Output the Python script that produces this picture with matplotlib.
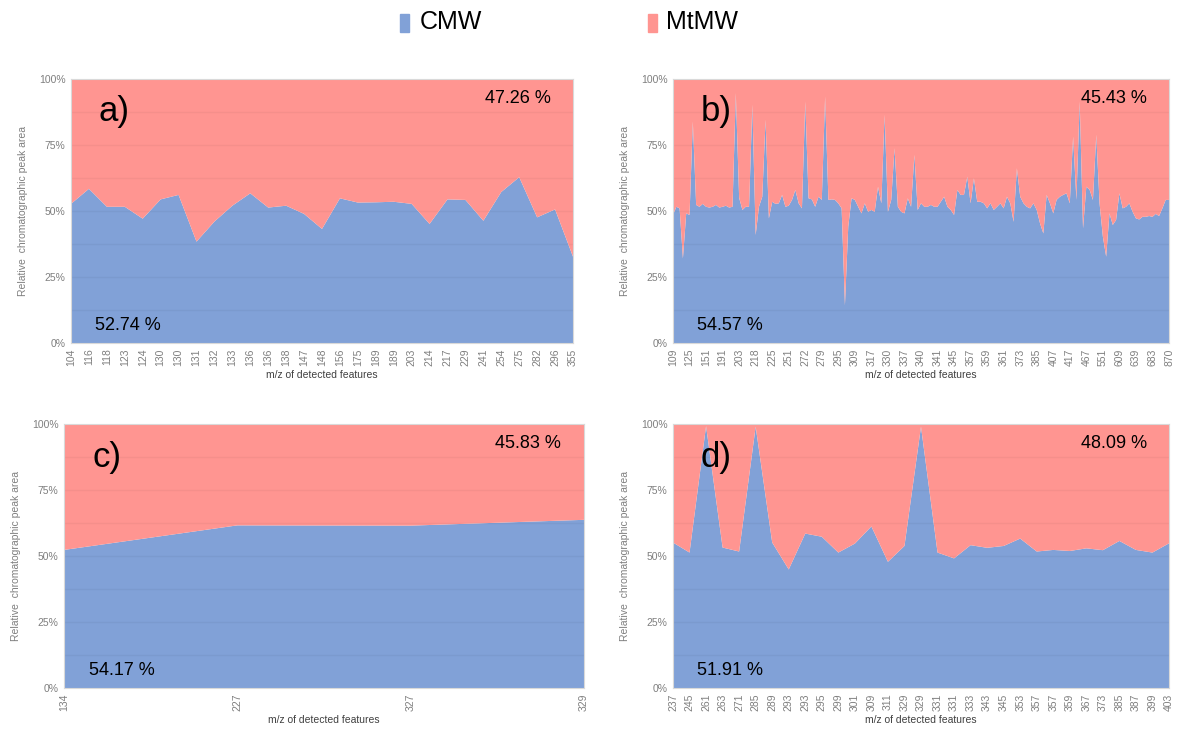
import matplotlib
matplotlib.use("Agg")
import matplotlib.pyplot as plt
import numpy as np

plt.rcParams['font.family'] = ['Liberation Sans', 'DejaVu Sans']

BLUE = "#81A1D7"
RED = "#FF9591"
GRAY = "#7F7F7F"

# panel a
mz_a = ["104", "116", "118", "123", "124", "130", "130", "131", "132", "133",
        "136", "136", "138", "147", "148", "156", "175", "189", "189", "203",
        "214", "217", "229", "241", "254", "275", "282", "296", "355"]
cmw_a = [52.7, 58.4, 51.6, 51.6, 47.1, 54.4, 56.1, 38.4, 46.0, 52.0,
         56.7, 51.3, 52.0, 48.9, 43.2, 54.8, 53.2, 53.3, 53.5, 52.7,
         45.1, 54.4, 54.2, 46.3, 57.2, 62.8, 47.6, 50.6, 32.7]

# panel b (labels shown every 5th feature)
mz_b = ["109", "125", "151", "191", "203", "218", "225", "251", "272", "279",
        "295", "309", "317", "330", "337", "340", "341", "345", "357", "359",
        "361", "373", "385", "407", "417", "467", "551", "609", "639", "683", "870"]
cmw_b = [48.5, 51.6, 51.0, 32.0, 49.1, 48.5, 83.9, 52.3, 51.6, 52.7,
         51.6, 51.3, 51.6, 52.3, 51.3, 51.6, 52.0, 51.3, 51.6, 94.7,
         55.0, 50.4, 51.6, 51.6, 90.3, 40.9, 51.6, 55.4, 84.6, 47.2,
         53.5, 52.7, 52.9, 56.1, 51.6, 52.0, 54.2, 58.0, 52.9, 51.0,
         91.5, 54.8, 54.4, 51.6, 55.4, 54.2, 93.4, 54.2, 54.4, 54.2,
         52.9, 51.0, 14.3, 44.1, 54.8, 54.2, 51.6, 49.1, 52.9, 49.7,
         50.4, 49.7, 59.2, 52.9, 86.5, 49.7, 54.2, 73.8, 51.6, 49.7,
         49.1, 54.8, 51.6, 71.3, 50.4, 52.9, 51.6, 51.6, 52.3, 51.6,
         51.6, 53.5, 55.4, 51.6, 50.4, 48.5, 58.0, 56.1, 56.1, 63.0,
         52.9, 62.4, 53.5, 53.5, 52.9, 51.0, 52.9, 50.4, 51.6, 52.9,
         51.0, 55.4, 52.9, 45.9, 66.2, 55.4, 52.9, 51.6, 51.0, 52.9,
         50.4, 45.3, 41.5, 56.1, 52.9, 49.1, 54.2, 55.4, 56.1, 56.7,
         52.9, 78.2, 54.2, 91.5, 43.4, 59.2, 58.0, 54.2, 78.9, 52.9,
         40.3, 32.7, 49.1, 44.7, 46.6, 56.7, 51.0, 51.6, 52.9, 49.7,
         47.2, 46.8, 47.8, 47.8, 48.1, 47.8, 48.9, 48.1, 51.0, 54.2, 54.2]

# panel c
mz_c = ["134", "227", "327", "329"]
cmw_c = [52.3, 61.6, 61.5, 63.7]

# panel d
mz_d = ["237", "245", "261", "263", "271", "285", "289", "293", "293", "295",
        "299", "301", "309", "311", "329", "329", "331", "331", "333", "343",
        "345", "353", "357", "357", "359", "367", "373", "385", "387", "399", "403"]
cmw_d = [55.1, 51.3, 99.2, 53.2, 51.7, 99.0, 55.1, 44.9, 58.5, 57.3,
         51.3, 54.7, 61.2, 47.8, 53.8, 99.0, 51.3, 49.1, 54.1, 53.1,
         53.8, 56.6, 51.7, 52.3, 51.9, 52.9, 52.2, 55.7, 52.3, 51.3, 54.8]

letters = ["a)", "b)", "c)", "d)"]
top_pct = ["47.26 %", "45.43 %", "45.83 %", "48.09 %"]
bot_pct = ["52.74 %", "54.57 %", "54.17 %", "51.91 %"]

fig = plt.figure(figsize=(11.82, 7.34), dpi=100)
W, H = 1182, 734
boxes = [(71, 79, 573, 343), (673, 79, 1169, 343),
         (64, 424, 584, 688), (673, 424, 1169, 688)]

panels = [(mz_a, cmw_a, 1), (mz_b, cmw_b, 5), (mz_c, cmw_c, 1), (mz_d, cmw_d, 1)]

for k, (labels, vals, step) in enumerate(panels):
    x0, y0, x1, y1 = boxes[k]
    ax = fig.add_axes([x0 / W, 1 - y1 / H, (x1 - x0) / W, (y1 - y0) / H])
    v = np.array(vals) / 100.0
    x = np.arange(len(v))
    ax.stackplot(x, v, 1 - v, colors=[BLUE, RED], linewidth=0)
    ax.set_xlim(0, len(v) - 1)
    ax.set_ylim(0, 1)
    for g in np.arange(0.125, 1.0, 0.125):
        ax.axhline(g, color="#000000", alpha=0.04, lw=1)
    ax.set_yticks([0, 0.25, 0.5, 0.75, 1.0])
    ax.set_yticklabels(["0%", "25%", "50%", "75%", "100%"], color=GRAY, fontsize=7.5)
    ax.set_xticks(x[::step])
    ax.set_xticklabels(labels, rotation=90, color=GRAY, fontsize=7.5)
    ax.tick_params(length=0, pad=4)
    for s in ax.spines.values():
        s.set_color("#D9D9D9")
        s.set_linewidth(0.8)
    ax.set_xlabel("m/z of detected features", color="#404040", fontsize=7.5, labelpad=3)
    ax.set_ylabel("Relative  chromatographic peak area", color=GRAY, fontsize=7.5, labelpad=8)
    ax.text(0.055, 0.875, letters[k], transform=ax.transAxes, fontsize=25, va="center")
    ax.text(0.955, 0.928, top_pct[k], transform=ax.transAxes, fontsize=13,
            ha="right", va="center")
    ax.text(0.048, 0.068, bot_pct[k], transform=ax.transAxes, fontsize=13,
            ha="left", va="center")

# legend
fig.patches.append(plt.Rectangle((400 / W, 1 - 32 / H), 9 / W, 18 / H,
                                 transform=fig.transFigure, color=BLUE))
fig.text(420 / W, 1 - 22 / H, "CMW", fontsize=18, va="center")
fig.patches.append(plt.Rectangle((648 / W, 1 - 32 / H), 9 / W, 18 / H,
                                 transform=fig.transFigure, color=RED))
fig.text(666 / W, 1 - 22 / H, "MtMW", fontsize=18, va="center")

fig.savefig("out.png", dpi=100)
